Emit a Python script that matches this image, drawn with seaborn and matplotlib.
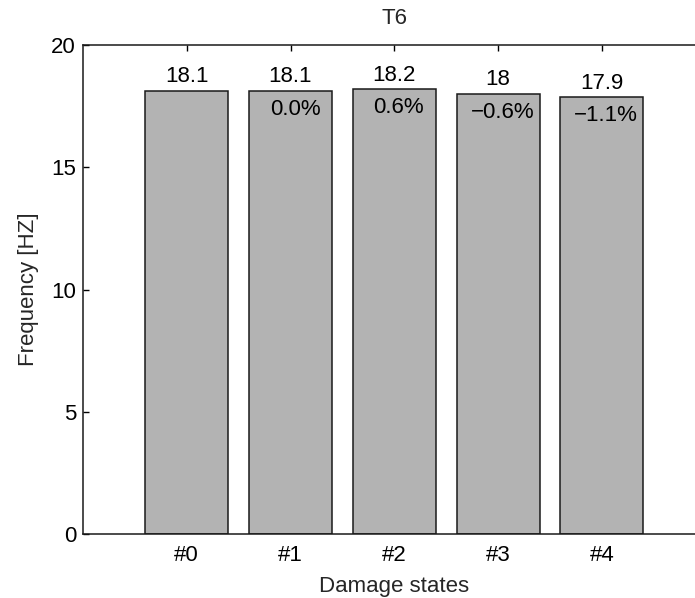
import pandas as pd
import seaborn as sns
import matplotlib.pyplot as plt

sns.set_theme(style="white")
plt.rcParams["font.family"] = ["Liberation Sans", "DejaVu Sans"]

states = ["#0", "#1", "#2", "#3", "#4"]
frequency = [18.13, 18.13, 18.19, 18.01, 17.88]
value_labels = ["18.1", "18.1", "18.2", "18", "17.9"]
change_labels = ["", "0.0%", "0.6%", "\u22120.6%", "\u22121.1%"]

FS = 16

df = pd.DataFrame({"state": states, "freq": frequency})

fig = plt.figure(figsize=(6.95, 5.98), dpi=100)
ax = fig.add_axes([83 / 695, 64 / 598, 622.5 / 695, 489 / 598])

sns.barplot(
    data=df, x="state", y="freq", ax=ax,
    color="#b3b3b3", saturation=1, edgecolor="#1a1a1a", linewidth=1.1,
    width=0.8,
)

# value on top of each bar, relative change inside the bar
for i, (v, lab, ch) in enumerate(zip(frequency, value_labels, change_labels)):
    ax.annotate(lab, (i, v), xytext=(0, 6), textcoords="offset points",
                ha="center", va="baseline", fontsize=FS, color="black")
    if ch:
        ax.annotate(ch, (i, v), xytext=(3.2, -17.3), textcoords="offset points",
                    ha="center", va="baseline", fontsize=FS, color="black")

ax.set_xlim(-1, 5)
ax.set_ylim(0, 20)
ax.set_yticks([0, 5, 10, 15, 20])
ax.set_title("T6", fontsize=FS, pad=15)
ax.set_xlabel("Damage states", fontsize=FS, labelpad=7)
ax.set_ylabel("Frequency [HZ]", fontsize=FS, labelpad=9)

ax.tick_params(axis="both", direction="in", length=4.5, width=1,
               labelsize=FS, colors="black")
ax.tick_params(axis="x", top=True, bottom=False, pad=8)
ax.tick_params(axis="y", left=True, right=False, pad=5)

for side in ["left", "top", "bottom", "right"]:
    ax.spines[side].set_color("#1a1a1a")
    ax.spines[side].set_linewidth(1.1)

fig.savefig("out.png", dpi=100)
